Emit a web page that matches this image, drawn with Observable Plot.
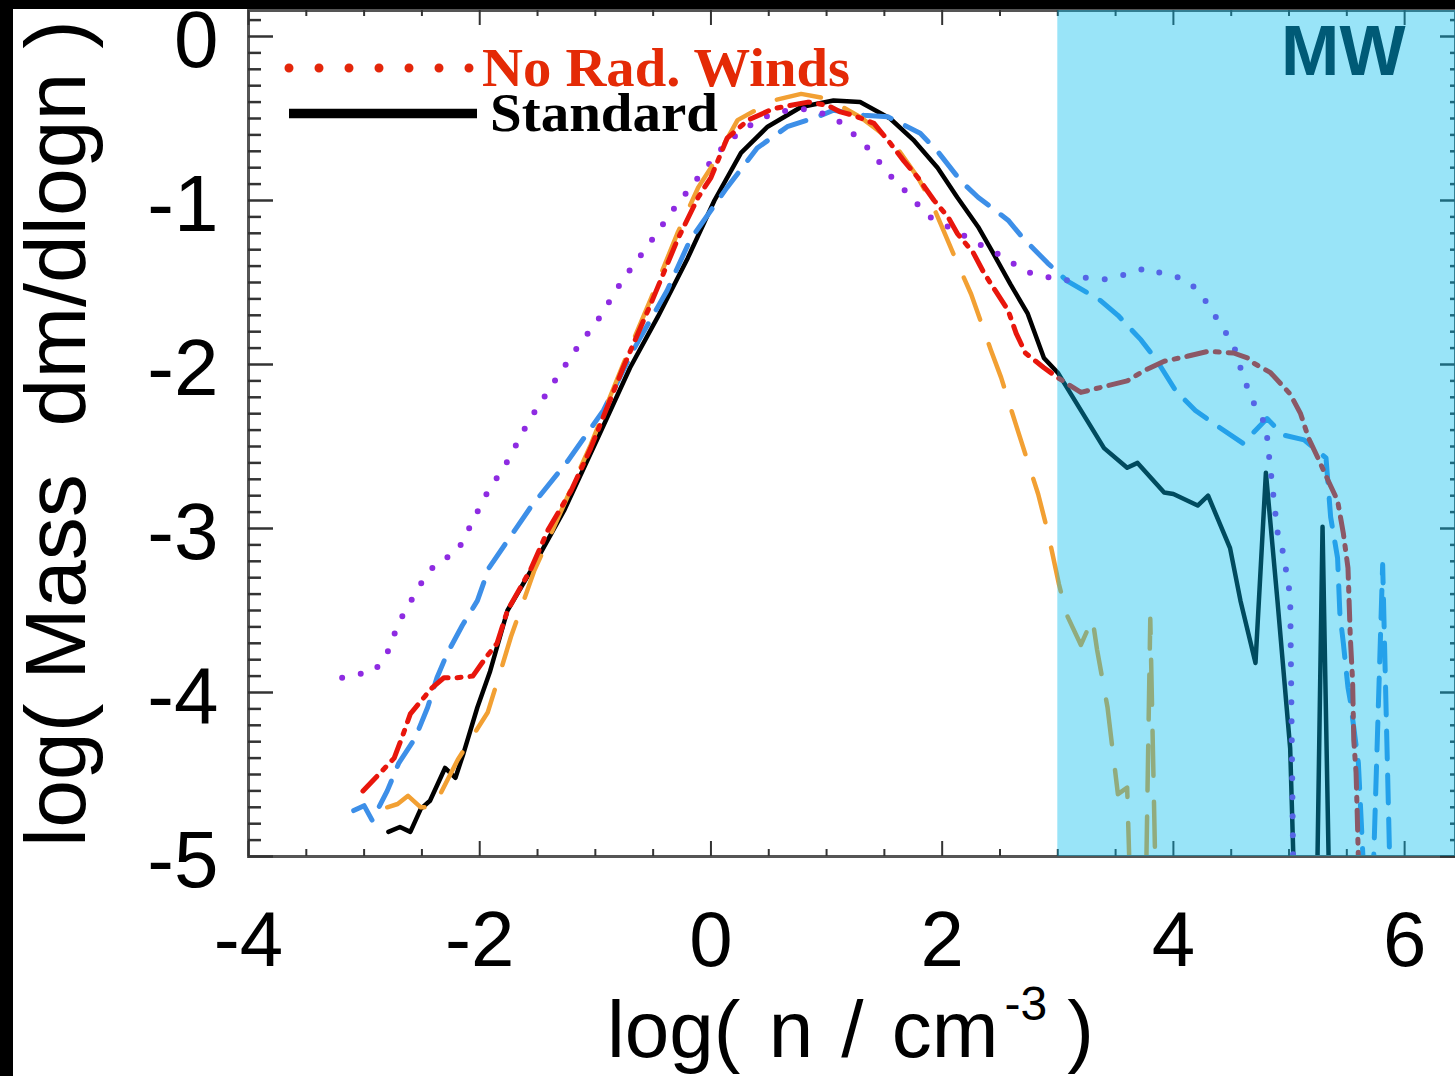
<!DOCTYPE html>
<html>
<head>
<meta charset="utf-8">
<script src="https://cdn.jsdelivr.net/npm/d3@7"></script>
<script src="https://cdn.jsdelivr.net/npm/@observablehq/plot@0.6"></script>
<style>
  html, body { margin: 0; padding: 0; background: #fff; width: 1455px; height: 1076px; overflow: hidden; }
  #wrap { position: relative; width: 1455px; height: 1076px; }
  #chart { position: absolute; left: 0; top: 0; }
  #overlay { position: absolute; left: 0; top: 0; pointer-events: none; }
  .band { position: absolute; background: #000; }
</style>
</head>
<body>
<div id="wrap">
  <div id="chart"></div>
  <svg id="overlay" width="1455" height="1076">
    <line x1="289" y1="68" x2="470" y2="68" stroke="#E4260A" stroke-width="9" stroke-linecap="round" stroke-dasharray="0,30"/>
    <text x="482" y="86" font-family="Liberation Serif" font-weight="bold" font-size="55" fill="#E42A06" textLength="368" lengthAdjust="spacingAndGlyphs">No Rad. Winds</text>
    <line x1="289" y1="113.5" x2="477" y2="113.5" stroke="#000" stroke-width="9.5"/>
    <text x="490" y="131" font-family="Liberation Serif" font-weight="bold" font-size="55" fill="#000" textLength="228" lengthAdjust="spacingAndGlyphs">Standard</text>
    <text x="607" y="1057" font-family="Liberation Sans" font-size="80" fill="#000" style="word-spacing:6px"><tspan>log( n / cm</tspan><tspan dy="-37" dx="6" font-size="48">-3</tspan><tspan dy="37" dx="20">)</tspan></text>
  </svg>
  <div class="band" style="left:0;top:0;width:13px;height:1076px"></div>
  <div class="band" style="left:0;top:0;width:1455px;height:9px"></div>
</div>
<script>
// ---------- data ----------
const standard = [[-2.79,-4.85],[-2.69,-4.82],[-2.60,-4.85],[-2.51,-4.71],[-2.43,-4.66],[-2.30,-4.46],[-2.21,-4.52],[-2.14,-4.37],[-2.02,-4.09],[-1.91,-3.87],[-1.76,-3.50],[-1.56,-3.26],[-1.27,-2.89],[-0.98,-2.45],[-0.70,-2.02],[-0.46,-1.71],[-0.20,-1.35],[0.03,-1.00],[0.26,-0.71],[0.49,-0.55],[0.78,-0.43],[1.06,-0.39],[1.29,-0.40],[1.55,-0.50],[1.75,-0.63],[1.96,-0.80],[2.13,-0.98],[2.31,-1.16],[2.44,-1.32],[2.59,-1.51],[2.74,-1.69],[2.88,-1.96],[3.00,-2.05],[3.20,-2.28],[3.40,-2.51],[3.60,-2.63],[3.69,-2.60],[3.92,-2.78],[4.00,-2.79],[4.21,-2.86],[4.30,-2.80],[4.49,-3.12],[4.58,-3.44],[4.71,-3.82],[4.80,-2.66],[4.90,-3.44],[5.01,-4.34],[5.05,-5.3],[5.24,-5.3],[5.29,-2.99],[5.35,-5.3]];

const noRadWinds = [[-3.01,-4.60],[-2.86,-4.49],[-2.74,-4.40],[-2.67,-4.27],[-2.60,-4.13],[-2.47,-4.02],[-2.41,-3.97],[-2.31,-3.91],[-2.20,-3.91],[-2.06,-3.90],[-1.95,-3.79],[-1.85,-3.70],[-1.76,-3.50],[-1.56,-3.25],[-1.41,-3.01],[-1.21,-2.77],[-1.04,-2.51],[-0.76,-2.02],[-0.52,-1.63],[-0.29,-1.24],[-0.11,-0.98],[0.00,-0.86],[0.14,-0.62],[0.32,-0.51],[0.54,-0.44],[0.84,-0.40],[1.01,-0.42],[1.12,-0.46],[1.23,-0.48],[1.41,-0.53],[1.55,-0.65],[1.67,-0.76],[1.79,-0.86],[1.93,-1.00],[2.05,-1.10],[2.13,-1.20],[2.27,-1.32],[2.36,-1.44],[2.46,-1.55],[2.57,-1.67],[2.64,-1.81],[2.72,-1.93],[2.88,-2.02],[3.00,-2.08],[3.20,-2.17],[3.37,-2.14],[3.60,-2.10],[3.74,-2.04],[3.92,-1.98],[4.12,-1.95],[4.30,-1.92],[4.52,-1.93],[4.64,-1.96],[4.69,-1.99],[4.84,-2.05],[5.01,-2.18],[5.10,-2.30],[5.17,-2.45],[5.25,-2.57],[5.34,-2.71],[5.42,-2.83],[5.47,-3.03],[5.51,-3.24],[5.53,-3.66],[5.55,-3.93],[5.56,-4.29],[5.58,-4.49],[5.59,-4.74],[5.61,-5.3]];

const orangeRun = [[-2.80,-4.70],[-2.71,-4.68],[-2.62,-4.63],[-2.51,-4.70],[-2.40,-4.70],[-2.19,-4.41],[-1.93,-4.12],[-1.82,-3.87],[-1.73,-3.66],[-1.53,-3.26],[-1.30,-2.90],[-1.04,-2.49],[-0.76,-2.00],[-0.52,-1.60],[-0.29,-1.20],[-0.11,-0.92],[0.00,-0.80],[0.23,-0.51],[0.54,-0.39],[0.78,-0.35],[1.01,-0.38],[1.29,-0.49],[1.44,-0.57],[1.58,-0.65],[1.79,-0.86],[1.90,-1.00],[2.01,-1.18],[2.13,-1.38],[2.25,-1.57],[2.33,-1.73],[2.42,-1.91],[2.51,-2.08],[2.59,-2.26],[2.68,-2.46],[2.83,-2.79],[2.91,-3.01],[3.01,-3.34],[3.08,-3.53],[3.20,-3.71],[3.30,-3.55],[3.34,-3.74],[3.43,-4.09],[3.52,-4.62],[3.60,-4.58],[3.63,-5.3],[3.76,-5.3],[3.80,-3.55],[3.85,-5.3]];

const purpleRun = [[-3.19,-3.91],[-3.06,-3.89],[-2.91,-3.87],[-2.80,-3.76],[-2.73,-3.63],[-2.66,-3.52],[-2.56,-3.40],[-2.47,-3.29],[-2.36,-3.20],[-2.20,-3.15],[-1.95,-2.80],[-1.76,-2.59],[-1.58,-2.35],[-1.38,-2.13],[-1.17,-1.91],[-0.96,-1.71],[-0.76,-1.48],[-0.54,-1.27],[-0.32,-1.05],[-0.10,-0.85],[0.13,-0.65],[0.28,-0.57],[0.43,-0.50],[0.58,-0.46],[0.78,-0.44],[0.97,-0.47],[1.14,-0.53],[1.27,-0.62],[1.40,-0.71],[1.51,-0.82],[1.64,-0.91],[1.77,-1.01],[1.89,-1.10],[2.05,-1.16],[2.23,-1.23],[2.38,-1.29],[2.55,-1.35],[2.70,-1.43],[2.87,-1.46],[3.04,-1.49],[3.22,-1.47],[3.41,-1.48],[3.59,-1.45],[3.77,-1.41],[3.92,-1.45],[4.11,-1.48],[4.24,-1.57],[4.43,-1.78],[4.52,-1.88],[4.58,-2.02],[4.64,-2.14],[4.71,-2.26],[4.80,-2.37],[4.82,-2.51],[4.86,-2.77],[4.90,-3.02],[4.95,-3.15],[5.01,-3.41],[5.02,-4.05],[5.04,-5.3]];

const blueRun = [[-3.09,-4.72],[-3.00,-4.69],[-2.93,-4.78],[-2.80,-4.60],[-2.70,-4.43],[-2.56,-4.28],[-2.45,-4.09],[-2.37,-3.91],[-2.28,-3.76],[-2.15,-3.59],[-2.02,-3.44],[-1.92,-3.24],[-1.56,-2.87],[-1.24,-2.59],[-0.93,-2.28],[-0.67,-1.91],[-0.38,-1.55],[-0.18,-1.24],[0.14,-0.92],[0.40,-0.68],[0.66,-0.55],[0.92,-0.49],[1.06,-0.45],[1.32,-0.48],[1.53,-0.49],[1.81,-0.59],[1.96,-0.70],[2.16,-0.88],[2.31,-0.98],[2.57,-1.12],[2.70,-1.23],[2.91,-1.38],[3.08,-1.49],[3.37,-1.61],[3.52,-1.70],[3.72,-1.85],[3.86,-1.98],[4.02,-2.16],[4.19,-2.28],[4.39,-2.38],[4.60,-2.48],[4.81,-2.33],[4.95,-2.43],[5.13,-2.46],[5.32,-2.57],[5.36,-2.93],[5.42,-3.18],[5.44,-3.52],[5.47,-3.70],[5.51,-3.97],[5.53,-4.05],[5.60,-4.43],[5.66,-5.3],[5.72,-5.3],[5.81,-3.22],[5.88,-5.3]];

const xMajor = [-4, -2, 0, 2, 4, 6];
const xTickLabels = ["-4", "-2", "0", "2", "4", "6"];
const yMajor = [-5, -4, -3, -2, -1, 0];
const yTickLabels = ["-5", "-4", "-3", "-2", "-1", "0"];
const mwStart = 3;            // log n where the MW-shaded region begins
const mwLabel = "MW";
const yAxisTitle = "log( Mass\u00a0 dm/dlogn )";

// ---------- layout ----------
const W = 1455, H = 1076;
const mL = 248, mR = 0, mT = 10, mB = 220;
const frameW = W - mL - mR, frameH = H - mT - mB;
const xDomain = [-4, 6.44];
const yDomain = [-5, 0.1585];

const xMinor = d3.range(-8, 13).map(i => i / 2).filter(v => !xMajor.includes(v) && v <= xDomain[1]);
const yMinor = d3.range(-50, 2).map(i => i / 10).filter(v => !Number.isInteger(v));

const toRows = arr => arr.map(([x, y]) => ({x, y}));
const tickCol = "#333";

const lineOpts = {x: "x", y: "y", clip: true, strokeLinejoin: "round", fill: "none"};

const chart = Plot.plot({
  width: W, height: H,
  marginLeft: mL, marginRight: mR, marginTop: mT, marginBottom: mB,
  style: {fontFamily: "Liberation Sans, Arial, sans-serif", background: "transparent", color: "#000"},
  x: {domain: xDomain},
  y: {domain: yDomain},
  marks: [
    // curves
    Plot.line(toRows(standard), {...lineOpts, stroke: "#000", strokeWidth: 4.5}),
    Plot.line(toRows(blueRun), {...lineOpts, stroke: "#3D8FE8", strokeWidth: 5, strokeDasharray: "28,16"}),
    Plot.line(toRows(purpleRun), {...lineOpts, stroke: "#8E2BE2", strokeWidth: 6, strokeDasharray: "0,19", strokeLinecap: "round"}),
    Plot.line(toRows(orangeRun), {...lineOpts, stroke: "#F2A033", strokeWidth: 4.5, strokeDasharray: "45,26"}),
    Plot.line(toRows(noRadWinds), {...lineOpts, stroke: "#E8160C", strokeWidth: 5, strokeDasharray: "20,9,4,9"}),
    // frame
    Plot.frame({stroke: "#555", strokeWidth: 3}),
    // inward ticks: bottom
    Plot.tickX(xMajor, {x: d => d, insetTop: frameH - 15, stroke: tickCol, strokeWidth: 2}),
    Plot.tickX(xMinor, {x: d => d, insetTop: frameH - 7, stroke: tickCol, strokeWidth: 2}),
    // top
    Plot.tickX(xMajor, {x: d => d, insetBottom: frameH - 15, stroke: tickCol, strokeWidth: 2}),
    Plot.tickX(xMinor, {x: d => d, insetBottom: frameH - 6, stroke: tickCol, strokeWidth: 2}),
    // left
    Plot.tickY(yMajor, {y: d => d, insetRight: frameW - 25, stroke: tickCol, strokeWidth: 2.5}),
    Plot.tickY(yMinor, {y: d => d, insetRight: frameW - 13, stroke: tickCol, strokeWidth: 2.5}),
    // right
    Plot.tickY(yMajor, {y: d => d, insetLeft: frameW - 15, stroke: tickCol, strokeWidth: 2.5}),
    Plot.tickY(yMinor, {y: d => d, insetLeft: frameW - 5, stroke: tickCol, strokeWidth: 2.5}),
    // MW shaded region (translucent, drawn over the curves)
    Plot.rect([{}], {x1: mwStart, x2: xDomain[1], y1: yDomain[0], y2: yDomain[1], fill: "#00BBED", fillOpacity: 0.4}),
    Plot.text([mwLabel], {text: d => d, frameAnchor: "top-right", dx: -50, dy: 15, textAnchor: "end", lineAnchor: "top", fontSize: 70, fontWeight: "bold", fill: "#005A76"}),
    // axes labels
    Plot.axisX(xMajor, {tickSize: 0, tickPadding: 54, tickFormat: d => xTickLabels[xMajor.indexOf(d)], fontSize: 78, fill: "#000", label: null}),
    Plot.axisY(yMajor, {tickSize: 0, tickPadding: 30, dy: 5, tickFormat: d => yTickLabels[yMajor.indexOf(d)], fontSize: 80, fill: "#000", label: null}),
    Plot.text([yAxisTitle], {text: d => d, frameAnchor: "left", dx: -191, rotate: -90, textAnchor: "middle", lineAnchor: "middle", fontSize: 86, fill: "#000"})
  ]
});
document.getElementById("chart").appendChild(chart);
</script>
</body>
</html>
